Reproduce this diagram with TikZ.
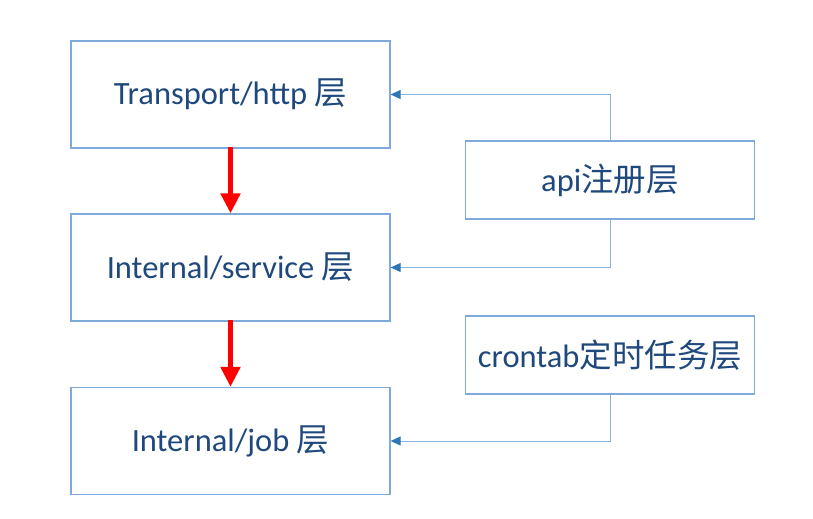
\documentclass[tikz,border=0pt]{standalone}
\usepackage{fontspec}
\setmainfont{Carlito}
\newfontfamily\cjk{Noto Sans CJK SC}
\usepackage{xcolor}
\usepackage{tikz}
\usetikzlibrary{arrows.meta}
\definecolor{rahmenblau}{RGB}{125,170,218}
\definecolor{textblau}{RGB}{31,73,125}
\definecolor{linieblau}{RGB}{140,180,225}
\definecolor{spitzeblau}{RGB}{46,117,182}
\definecolor{pfeilrot}{RGB}{255,0,0}

\begin{document}
\begin{tikzpicture}[x=1bp, y=-1bp,
    layer/.style={draw=rahmenblau, line width=1.3bp, text=textblau,
      minimum width=319bp, minimum height=107bp, inner sep=0pt,
      font=\fontsize{32.5bp}{38bp}\selectfont},
    side/.style={layer, minimum width=289bp, minimum height=78bp},
    link/.style={linieblau, line width=1bp,
      -{Triangle[length=10bp,width=9bp,color=spitzeblau]}},
    down/.style={pfeilrot, line width=5bp,
      -{Triangle[length=20bp,width=19bp]}}]
    \useasboundingbox (0,0) rectangle (813,519);
    \node[layer] (trans) at (230.5,94.5) {Transport/http {\cjk 层}};
    \node[layer] (svc) at (230.5,267.5) {Internal/service {\cjk 层}};
    \node[layer] (job) at (230.5,441) {Internal/job {\cjk 层}};
    \node[side] (api) at (610,180) {api{\cjk 注册层}};
    \node[side] (cron) at (610,355) {crontab{\cjk 定时任务层}};
    \draw[down] ([yshift=2bp]trans.south) -- (svc.north);
    \draw[down] ([yshift=2bp]svc.south) -- (job.north);
    \draw[link] (api.north) |- (trans.east);
    \draw[link] (api.south) |- (svc.east);
    \draw[link] (cron.south) |- (job.east);
\end{tikzpicture}
\end{document}
